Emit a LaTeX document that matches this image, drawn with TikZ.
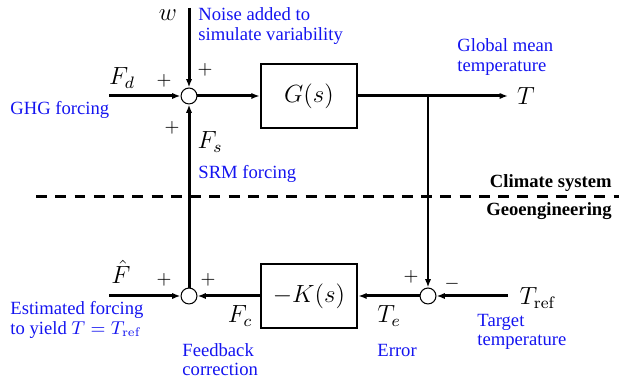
\documentclass[tikz,border=0pt]{standalone}
\usepackage[no-math]{fontspec}
\setmainfont{Liberation Serif}
\usetikzlibrary{arrows.meta}
\definecolor{lblblue}{RGB}{20,20,240}
\tikzset{
  sig/.style={line width=1.45pt,-{Latex[length=4pt,width=3pt]}},
  branchline/.style={line width=0.9pt,-{Latex[length=4pt,width=3pt]}},
  sumc/.style={circle,draw,line width=0.5pt,minimum size=7.7pt,inner sep=0pt,fill=white},
  blockbox/.style={draw,line width=1.25pt,minimum width=46.4pt,minimum height=31pt,inner sep=0pt,font=\large},
  mlabel/.style={inner sep=0pt,font=\large},
  sgn/.style={inner sep=0pt,font=\small},
  note/.style={inner sep=0pt,anchor=west,align=left,text=lblblue,font=\fontsize{9}{9.3}\selectfont},
  zone/.style={inner sep=0pt,anchor=east,font=\fontsize{9}{10}\selectfont\bfseries},
  sep/.style={line width=1.45pt,dash pattern=on 5.3pt off 4pt}
}
\begin{document}
\begin{tikzpicture}[x=0.483pt,y=-0.483pt]
\useasboundingbox (0,0) rectangle (619,380);
% blocks
\node[sumc] (s1) at (189,96) {};
\node[blockbox] (G) at (309,96) {$G(s)$};
\node[sumc] (s2) at (189,296) {};
\node[blockbox] (K) at (309,296) {$-K(s)$};
\node[sumc] (s3) at (428,296) {};
% free ends
\coordinate (wtop) at (189,8);
\coordinate (fdin) at (109,96);
\coordinate (tend) at (508,96);
\coordinate (br) at (428,96);
\coordinate (fhin) at (109,296);
\coordinate (trin) at (508,296);
\coordinate (dl) at (36,197);
\coordinate (dr) at (619,197);
% separator
\draw[sep] (dl) -- (dr);
% connectors
\draw[sig] (fdin) -- (s1);
\draw[sig] (wtop) -- (s1);
\draw[sig] (s1) -- (G);
\draw[sig] (G) -- (tend);
\draw[branchline] (br) -- (s3);
\draw[sig] (s2) -- (s1);
\draw[sig] (fhin) -- (s2);
\draw[sig] (K) -- (s2);
\draw[sig] (s3) -- (K);
\draw[sig] (trin) -- (s3);
% math labels
\node[mlabel] (lw) at (168,15) {$w$};
\node[mlabel] (lfd) at (122,78) {$F_d$};
\node[mlabel] (lfs) at (210,142) {$F_s$};
\node[mlabel] (lt) at (526,96) {$T$};
\node[mlabel] (lfh) at (121,272) {$\hat{F}$};
\node[mlabel] (lfc) at (240,316) {$F_c$};
\node[mlabel] (lte) at (389,316) {$T_e$};
\node[mlabel] (ltr) at (538,298) {$T_{\mathrm{ref}}$};
% signs
\node[sgn] (p1) at (164,81) {$+$};
\node[sgn] (p2) at (205,70) {$+$};
\node[sgn] (p3) at (172,128) {$+$};
\node[sgn] (p4) at (164,280) {$+$};
\node[sgn] (p5) at (208,280) {$+$};
\node[sgn] (p6) at (411,277) {$+$};
\node[sgn] (m1) at (452,284) {$-$};
% notes
\node[note] (nnoise) at (198,26) {Noise added to\\simulate variability};
\node[note] (nghg) at (10,110) {GHG forcing};
\node[note] (nsrm) at (198,174) {SRM forcing};
\node[note] (nglob) at (457,57) {Global mean\\temperature};
\node[note] (nest) at (10,320) {Estimated forcing\\to yield $T=T_{\mathrm{ref}}$};
\node[note] (nfb) at (182,360) {Feedback\\correction};
\node[note] (nerr) at (377,350) {Error};
\node[note] (ntar) at (477,332) {Target\\temperature};
% zones
\node[zone] (zc) at (612,183) {Climate system};
\node[zone] (zg) at (612,211) {Geoengineering};
\end{tikzpicture}
\end{document}
